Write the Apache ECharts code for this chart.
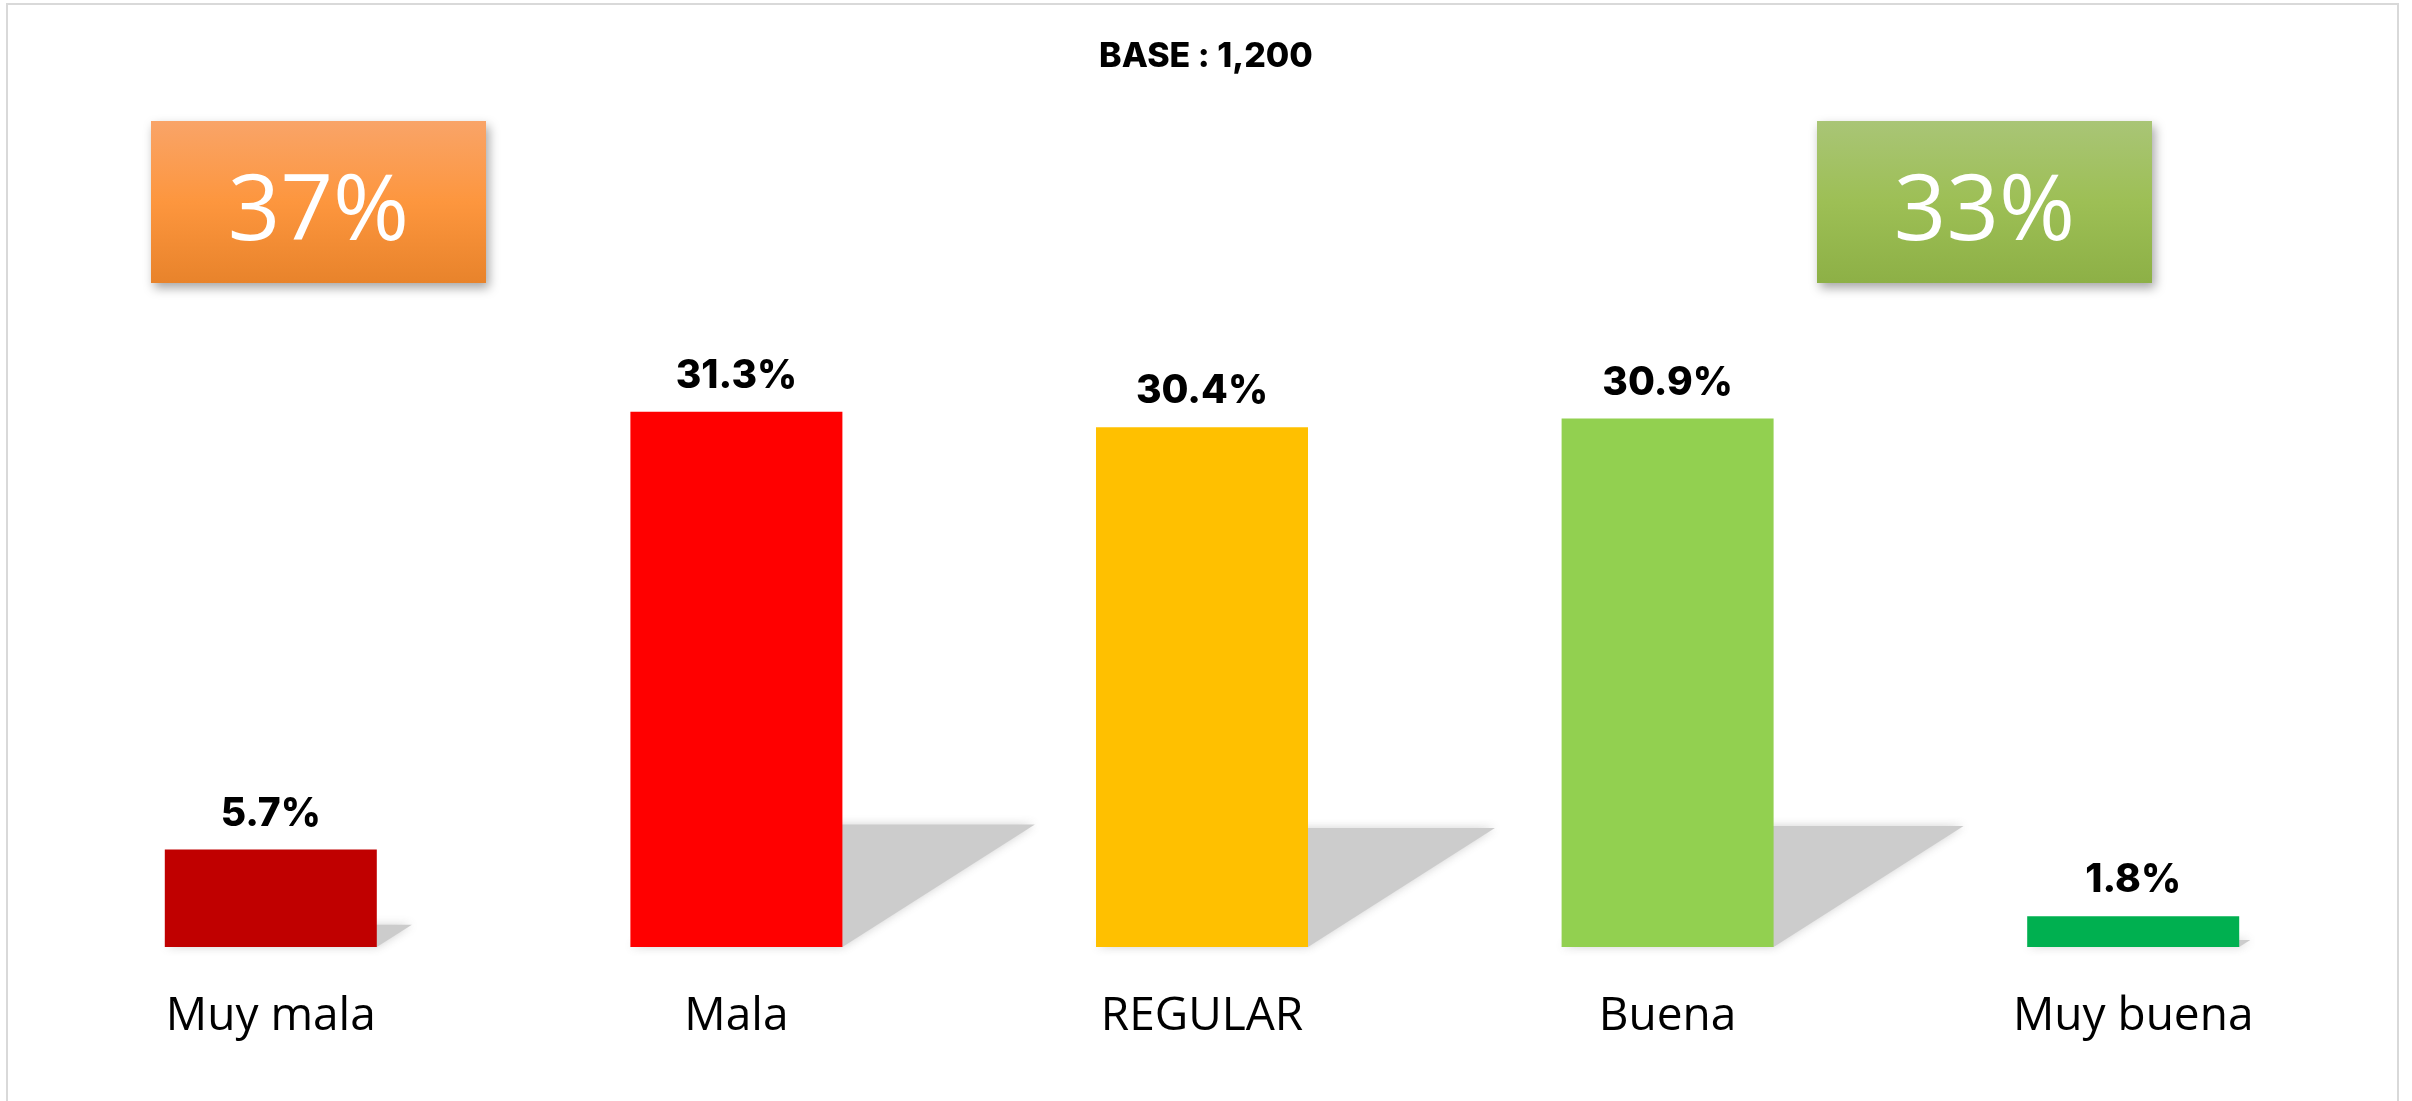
<!DOCTYPE html>
<html>
<head>
<meta charset="utf-8">
<script src="https://cdn.jsdelivr.net/npm/echarts@6/dist/echarts.min.js"></script>
<style>
  html, body { margin: 0; padding: 0; background: #fff; }
  #chart { width: 2412px; height: 1101px; }
</style>
</head>
<body>
<div id="chart"></div>
<script>
// survey data
const categories = ['Muy mala', 'Mala', 'REGULAR', 'Buena', 'Muy buena']
const values = [5.7, 31.3, 30.4, 30.9, 1.8]
const barColors = ['#C00000', '#FF0000', '#FFC000', '#92D050', '#00B050']
const baseText = 'BASE : 1,200'

// negative = first two, positive = last two
const negTotal = Math.round(values[0] + values[1])
const posTotal = Math.round(values[3] + values[4])

const chart = echarts.init(document.getElementById('chart'))

function boxGradient(c1, c2, c3) {
  return new echarts.graphic.LinearGradient(0, 0, 0, 1, [
    { offset: 0, color: c1 },
    { offset: 0.5, color: c2 },
    { offset: 1, color: c3 }
  ])
}

function summaryBox(x, fill, label) {
  return {
    type: 'group',
    left: x,
    top: 121,
    children: [
      {
        type: 'rect',
        shape: { x: 0, y: 0, width: 335, height: 162 },
        style: {
          fill: fill,
          shadowBlur: 10,
          shadowOffsetX: 3,
          shadowOffsetY: 5,
          shadowColor: 'rgba(0,0,0,0.35)'
        }
      },
      {
        type: 'text',
        x: 167.5,
        y: 93,
        style: {
          text: label,
          fill: '#fff',
          font: '400 92px "Open Sans", sans-serif',
          align: 'center',
          verticalAlign: 'middle'
        }
      }
    ]
  }
}

const option = {
  backgroundColor: '#fff',
  animation: false,
  title: {
    text: baseText,
    left: 'center',
    top: 35,
    textStyle: {
      fontFamily: 'Inter, "Open Sans", sans-serif',
      fontWeight: 800,
      fontSize: 34,
      color: '#000'
    }
  },
  grid: { left: 38, right: 46, top: 348.5, bottom: 154 },
  xAxis: {
    type: 'category',
    data: categories,
    axisLine: { show: false },
    axisTick: { show: false },
    axisLabel: {
      margin: 47,
      fontSize: 46,
      color: '#000',
      fontFamily: '"Open Sans", sans-serif'
    }
  },
  yAxis: {
    type: 'value',
    min: 0,
    max: 35,
    show: false,
    splitLine: { show: false }
  },
  graphic: [
    {
      type: 'rect',
      shape: { x: 7, y: 4, width: 2391, height: 1120 },
      style: { fill: 'none', stroke: '#d9d9d9', lineWidth: 2 },
      silent: true
    },
    summaryBox(151, boxGradient('#F9A468', '#FD963E', '#E8832B'), negTotal + '%'),
    summaryBox(1817, boxGradient('#A9C576', '#9DBF55', '#8DB046'), posTotal + '%')
  ],
  series: [
    {
      // perspective shadow behind each bar
      type: 'custom',
      z: 1,
      silent: true,
      data: values.map((v, i) => [i, v]),
      encode: { x: 0, y: 1 },
      renderItem: function (params, api) {
        const base = api.coord([api.value(0), 0])
        const top = api.coord([api.value(0), api.value(1)])
        const half = 106
        const h = (base[1] - top[1]) * 0.229
        const skew = h * 1.57
        const x0 = base[0] - half
        const x1 = base[0] + half
        return {
          type: 'polygon',
          shape: {
            points: [
              [x0, base[1]],
              [x1, base[1]],
              [x1 + skew, base[1] - h],
              [x0 + skew, base[1] - h]
            ]
          },
          style: {
            fill: '#cccccc',
            shadowBlur: 10,
            shadowColor: 'rgba(204,204,204,0.9)'
          }
        }
      }
    },
    {
      type: 'bar',
      z: 3,
      barWidth: 212,
      data: values.map((v, i) => ({
        value: v,
        itemStyle: { color: barColors[i] }
      })),
      label: {
        show: true,
        position: 'top',
        distance: 16,
        formatter: '{c}%',
        color: '#000',
        fontSize: 39,
        fontWeight: 800,
        fontFamily: 'Inter, "Open Sans", sans-serif'
      }
    }
  ]
}

chart.setOption(option)
</script>
</body>
</html>
